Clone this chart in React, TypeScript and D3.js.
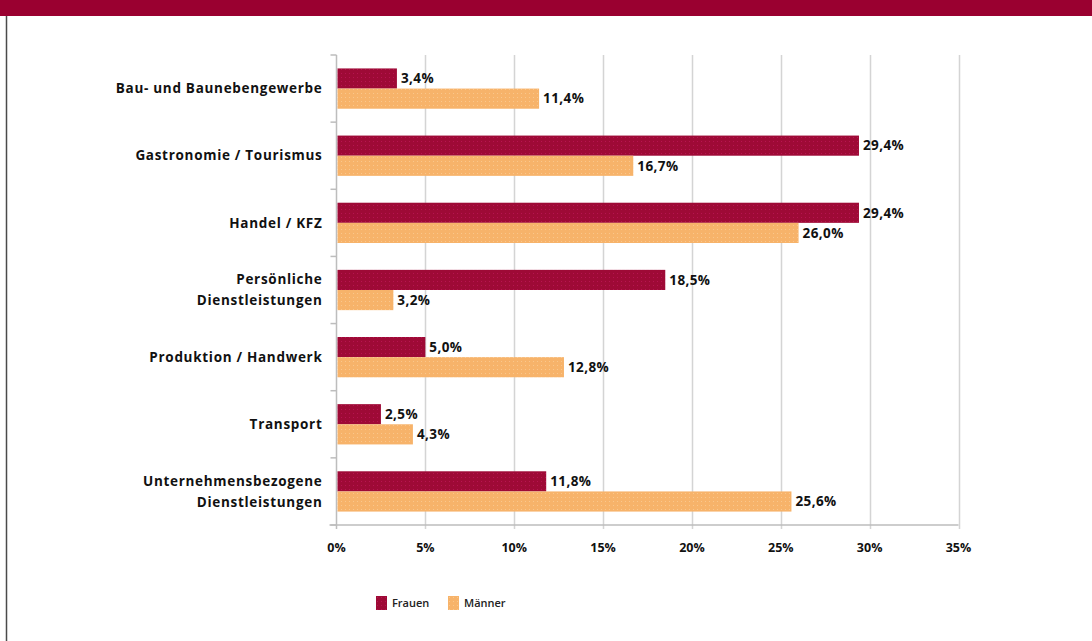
import { useRef, useEffect } from 'react';
import * as d3 from 'd3';

// Branchen and shares (in %) per gender
const categories = [
  ['Bau- und Baunebengewerbe'],
  ['Gastronomie / Tourismus'],
  ['Handel / KFZ'],
  ['Persönliche', 'Dienstleistungen'],
  ['Produktion / Handwerk'],
  ['Transport'],
  ['Unternehmensbezogene', 'Dienstleistungen'],
];
const frauen = [3.4, 29.4, 29.4, 18.5, 5.0, 2.5, 11.8];
const maenner = [11.4, 16.7, 26.0, 3.2, 12.8, 4.3, 25.6];
const seriesNames = ['Frauen', 'Männer'];
const xTicks = [0, 5, 10, 15, 20, 25, 30, 35];

const W = 1092;
const H = 641;
const COLORS = ['#9E0A36', '#F7B36A'];
const DOTS = ['#C2185B', '#FBD09A'];
const FONT = '"Open Sans", "DejaVu Sans", sans-serif';

export default function App() {
  const svgRef = useRef<SVGSVGElement>(null);

  useEffect(() => {
    if (!svgRef.current) return;
    const svg = d3.select(svgRef.current);
    svg.selectAll('*').remove();

    // dotted fills, like the original's pattern
    const defs = svg.append('defs');
    COLORS.forEach((c, i) => {
      const p = defs.append('pattern')
        .attr('id', `pat${i}`)
        .attr('width', 4)
        .attr('height', 4)
        .attr('patternUnits', 'userSpaceOnUse');
      p.append('rect').attr('width', 4).attr('height', 4).attr('fill', c);
      p.append('rect').attr('x', 1).attr('y', 1).attr('width', 1).attr('height', 1).attr('fill', DOTS[i]).attr('opacity', 0.7);
    });

    // header band and left frame line
    svg.append('rect').attr('x', 0).attr('y', 0).attr('width', W).attr('height', 16).attr('fill', '#9A0030');
    svg.append('line')
      .attr('x1', 6.5).attr('x2', 6.5).attr('y1', 16).attr('y2', H)
      .attr('stroke', '#4a4a4a').attr('stroke-width', 1.5);

    const left = 336.5;
    const right = 958.5;
    const top = 55;
    const bottom = 525;

    const x = d3.scaleLinear().domain([0, 35]).range([left, right]);
    const y = d3.scaleBand<number>()
      .domain(d3.range(categories.length))
      .range([top, bottom])
      .paddingInner(0.4)
      .paddingOuter(0.2);
    const sub = d3.scaleBand<number>()
      .domain([0, 1])
      .range([0, y.bandwidth()]);

    // gridlines
    svg.append('g')
      .selectAll('line')
      .data(xTicks.slice(1))
      .join('line')
      .attr('x1', (d) => Math.round(x(d)) + 0.5)
      .attr('x2', (d) => Math.round(x(d)) + 0.5)
      .attr('y1', top)
      .attr('y2', bottom + 4)
      .attr('stroke', '#D4D4D4')
      .attr('stroke-width', 1.5);

    // axes
    svg.append('line')
      .attr('x1', left - 7).attr('x2', right).attr('y1', bottom).attr('y2', bottom)
      .attr('stroke', '#BDBDBD').attr('stroke-width', 1.5);
    svg.append('line')
      .attr('x1', left).attr('x2', left).attr('y1', top).attr('y2', bottom + 4)
      .attr('stroke', '#BDBDBD').attr('stroke-width', 1.5);
    const step = (bottom - top) / categories.length;
    svg.append('g')
      .selectAll('line')
      .data(d3.range(categories.length + 1))
      .join('line')
      .attr('x1', left - 6)
      .attr('x2', left)
      .attr('y1', (i) => top + i * step)
      .attr('y2', (i) => top + i * step)
      .attr('stroke', '#BDBDBD')
      .attr('stroke-width', 1.5);

    // bars
    const series = [frauen, maenner];
    series.forEach((vals, s) => {
      const g = svg.append('g');
      g.selectAll('rect')
        .data(vals)
        .join('rect')
        .attr('x', left + 1)
        .attr('y', (_, i) => (y(i) as number) + (sub(s) as number))
        .attr('width', (d) => x(d) - left - 1)
        .attr('height', sub.bandwidth())
        .attr('fill', `url(#pat${s})`);
      g.selectAll('text')
        .data(vals)
        .join('text')
        .attr('x', (d) => x(d) + 4)
        .attr('y', (_, i) => (y(i) as number) + (sub(s) as number) + sub.bandwidth() / 2)
        .attr('dy', '0.35em')
        .attr('font-family', FONT)
        .attr('font-weight', 700)
        .attr('font-size', 13.5)
        .attr('letter-spacing', 0.4)
        .attr('fill', '#111')
        .text((d) => d.toFixed(1).replace('.', ',') + '%');
    });

    // category labels
    const cl = svg.append('g');
    categories.forEach((lines, i) => {
      const cy = (y(i) as number) + y.bandwidth() / 2;
      const t = cl.append('text')
        .attr('x', left - 14)
        .attr('text-anchor', 'end')
        .attr('font-family', FONT)
        .attr('font-weight', 700)
        .attr('font-size', 13.5)
        .attr('letter-spacing', 0.7)
        .attr('fill', '#111');
      lines.forEach((ln, k) => {
        t.append('tspan')
          .attr('x', left - 14)
          .attr('y', cy + (k - (lines.length - 1) / 2) * 21)
          .attr('dy', '0.35em')
          .text(ln);
      });
    });

    // x tick labels
    svg.append('g')
      .selectAll('text')
      .data(xTicks)
      .join('text')
      .attr('x', (d) => x(d))
      .attr('y', 548)
      .attr('dy', '0.35em')
      .attr('text-anchor', 'middle')
      .attr('font-family', FONT)
      .attr('font-weight', 700)
      .attr('font-size', 12.5)
      .attr('fill', '#111')
      .text((d) => `${d}%`);

    // legend
    const lx = [376, 448];
    seriesNames.forEach((name, i) => {
      svg.append('rect')
        .attr('x', lx[i]).attr('y', 596).attr('width', 11).attr('height', 14)
        .attr('fill', `url(#pat${i})`);
      svg.append('text')
        .attr('x', lx[i] + 16)
        .attr('y', 603)
        .attr('dy', '0.35em')
        .attr('font-family', FONT)
        .attr('font-weight', 600)
        .attr('font-size', 11)
        .attr('fill', '#222')
        .text(name);
    });
  }, []);

  return (
    <svg
      ref={svgRef}
      width={W}
      height={H}
      style={{ position: 'absolute', left: 0, top: 0, display: 'block', background: '#fff' }}
    />
  );
}
